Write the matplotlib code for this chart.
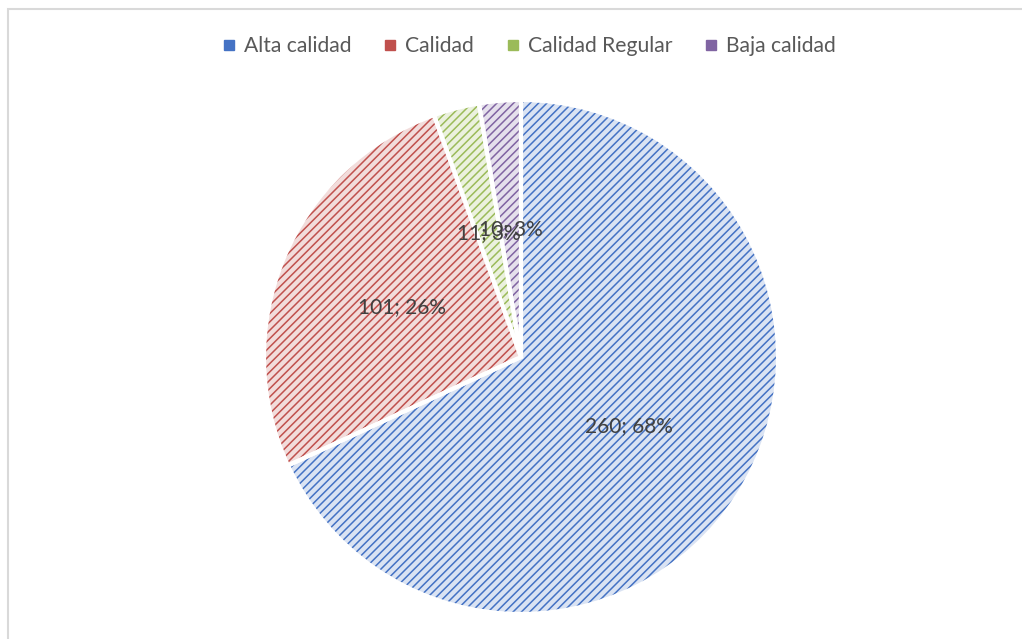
import matplotlib.pyplot as plt
from matplotlib.patches import Rectangle
from matplotlib.lines import Line2D

plt.rcParams['font.family'] = ['Lato', 'DejaVu Sans']
plt.rcParams['hatch.linewidth'] = 1.1

# data
categories = ['Alta calidad', 'Calidad', 'Calidad Regular', 'Baja calidad']
counts = [260, 101, 11, 10]
dark = ['#4472C4', '#C0504D', '#9BBB59', '#8064A2']
light = ['#DAE3F3', '#F2DCDB', '#EBF1DE', '#E5E0EC']

total = sum(counts)

def fmt(pct):
    n = int(round(pct * total / 100.0))
    return '{}; {:.0f}%'.format(n, pct)

fig = plt.figure(figsize=(10.22, 6.39), dpi=100)
W, H = 1022, 639

# chart border (partially outside the picture)
fig.add_artist(Rectangle((7.5 / W, -0.1), 1.2, 1 - 8.5 / H + 0.1,
                         transform=fig.transFigure, fill=False,
                         edgecolor='#D9D9D9', linewidth=1.5))

# pie axes
cx, cy, r = 521, 357, 257
ax = fig.add_axes([(cx - r) / W, (H - cy - r) / H, 2 * r / W, 2 * r / H])

wedges, texts, autotexts = ax.pie(counts, startangle=90, counterclock=False,
                                  colors=light, autopct=fmt, pctdistance=0.5,
                                  radius=1, frame=False,
                                  textprops={'fontsize': 15, 'color': '#404040'})
for w, c in zip(wedges, dark):
    w.set_hatch('////')
    w.set_edgecolor(c)
    w.set_linewidth(0)

# white separators on top
ax.pie(counts, startangle=90, counterclock=False, radius=1, frame=False,
       wedgeprops={'facecolor': 'none', 'edgecolor': 'white', 'linewidth': 3})
ax.set_xlim(-1, 1)
ax.set_ylim(-1, 1)
ax.set_aspect('auto')
ax.axis('off')

handles = [Line2D([], [], marker='s', linestyle='none', markersize=7,
                  markerfacecolor=c, markeredgecolor=c) for c in dark]
fig.legend(handles, categories, loc='center', bbox_to_anchor=(528 / W, 1 - 46 / H),
           ncol=4, frameon=False, fontsize=15.2, labelcolor='#595959',
           handletextpad=0.3, columnspacing=1.45, handlelength=0.8)

fig.savefig('out.png', dpi=100)
